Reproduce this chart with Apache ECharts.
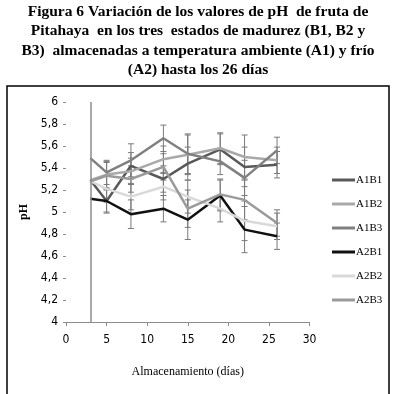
<!DOCTYPE html>
<html>
<head>
<meta charset="utf-8">
<script src="https://cdn.jsdelivr.net/npm/echarts@6/dist/echarts.min.js"></script>
<style>html,body{margin:0;padding:0;background:#fff;}#c{width:396px;height:394px;}</style>
</head>
<body>
<div id="c"></div>
<script>
const days = [3, 5, 8, 12, 15, 19, 22, 26];
const seriesNames = ['A1B1', 'A1B2', 'A1B3', 'A2B1', 'A2B2', 'A2B3'];
const A1B1 = [5.29, 5.10, 5.42, 5.30, 5.44, 5.57, 5.41, 5.43];
const A1B2 = [5.29, 5.34, 5.37, 5.48, 5.52, 5.58, 5.50, 5.47];
const A1B3 = [5.49, 5.36, 5.47, 5.67, 5.53, 5.46, 5.31, 5.56];
const A2B1 = [5.12, 5.10, 4.98, 5.03, 4.93, 5.15, 4.84, 4.78];
const A2B2 = [5.28, 5.21, 5.14, 5.23, 5.14, 5.03, 4.92, 4.87];
const A2B3 = [5.28, 5.33, 5.30, 5.41, 5.03, 5.16, 5.11, 4.90];
const A1B1_err = [0, 0.10, 0.12, 0.12, 0.15, 0.14, 0.18, 0.12];
const A1B2_err = [0, 0.12, 0.12, 0.12, 0.18, 0.14, 0.20, 0.12];
const A1B3_err = [0, 0.11, 0.15, 0.12, 0.18, 0.12, 0.16, 0.12];
const A2B1_err = [0, 0.11, 0.13, 0.12, 0.18, 0.14, 0.21, 0.12];
const A2B2_err = [0, 0.12, 0.12, 0.12, 0.15, 0.12, 0.18, 0.12];
const A2B3_err = [0, 0.12, 0.12, 0.12, 0.17, 0.14, 0.18, 0.12];
const xTicks = [0, 5, 10, 15, 20, 25, 30];
const yTicks = [4, 4.2, 4.4, 4.6, 4.8, 5, 5.2, 5.4, 5.6, 5.8, 6];
const axisCross = 3;
const titleLines = [
  'Figura 6 Variación de los valores de pH  de fruta de',
  'Pitahaya  en los tres  estados de madurez (B1, B2 y',
  'B3)  almacenadas a temperatura ambiente (A1) y frío',
  '(A2) hasta los 26 días'
];

const values = [A1B1, A1B2, A1B3, A2B1, A2B2, A2B3];
const errors = [A1B1_err, A1B2_err, A1B3_err, A2B1_err, A2B2_err, A2B3_err];
const colors = ['#595959', '#a9a9a9', '#808080', '#111111', '#d9d9d9', '#9a9a9a'];

const chart = echarts.init(document.getElementById('c'), null, {renderer: 'canvas'});

const series = [];
values.forEach((vals, si) => {
  series.push({
    type: 'custom',
    name: seriesNames[si] + '_err',
    z: 3,
    silent: true,
    data: days.map((d, i) => [d, vals[i], errors[si][i]]),
    renderItem: function (params, api) {
      const x = api.value(0), y = api.value(1), e = api.value(2);
      if (!e) return null;
      const top = api.coord([x, y + e]);
      const bot = api.coord([x, y - e]);
      const w = 3;
      const st = {stroke: '#7a7a7a', lineWidth: 1};
      return {
        type: 'group',
        children: [
          {type: 'line', shape: {x1: top[0], y1: top[1], x2: bot[0], y2: bot[1]}, style: st},
          {type: 'line', shape: {x1: top[0] - w, y1: top[1], x2: top[0] + w, y2: top[1]}, style: st},
          {type: 'line', shape: {x1: bot[0] - w, y1: bot[1], x2: bot[0] + w, y2: bot[1]}, style: st}
        ]
      };
    }
  });
});
values.forEach((vals, si) => {
  const s = {
    type: 'line',
    name: seriesNames[si],
    z: 4,
    data: days.map((d, i) => [d, vals[i]]),
    showSymbol: false,
    symbol: 'none',
    lineStyle: {color: colors[si], width: 2.5},
    itemStyle: {color: colors[si]}
  };
  if (si === 0) {
    s.markLine = {
      silent: true,
      symbol: 'none',
      label: {show: false},
      lineStyle: {color: '#8c8c8c', width: 1.5, type: 'solid'},
      data: [{xAxis: axisCross}]
    };
  }
  series.push(s);
});

const titleGraphics = titleLines.map((t, i) => ({
  type: 'text',
  x: 198,
  y: 11.7 + i * 19.4,
  style: {
    text: t,
    align: 'center',
    verticalAlign: 'middle',
    font: 'bold 15.5px "Liberation Serif", serif',
    fill: '#000'
  },
  silent: true
}));

chart.setOption({
  animation: false,
  backgroundColor: '#fff',
  graphic: titleGraphics.concat([{
    type: 'rect',
    shape: {x: 7, y: 86, width: 382, height: 320},
    style: {fill: 'none', stroke: '#000', lineWidth: 1.5},
    silent: true
  }]),
  legend: {
    orient: 'vertical',
    left: 327,
    top: 168,
    itemWidth: 23,
    itemHeight: 3,
    itemGap: 10,
    icon: 'rect',
    data: seriesNames,
    textStyle: {fontFamily: 'Liberation Serif', fontSize: 11, color: '#000', lineHeight: 14, padding: [0, 0, 0, -4]}
  },
  grid: {left: 66, right: 86.5, top: 102, bottom: 72, containLabel: false},
  xAxis: {
    type: 'value',
    min: xTicks[0],
    max: xTicks[xTicks.length - 1],
    interval: 5,
    name: 'Almacenamiento (días)',
    nameLocation: 'middle',
    nameGap: 44,
    nameTextStyle: {fontFamily: 'Liberation Serif', fontSize: 12, color: '#000'},
    axisLine: {show: true, lineStyle: {color: '#8c8c8c', width: 1}},
    axisTick: {show: true, length: 4, lineStyle: {color: '#8c8c8c'}},
    axisLabel: {fontFamily: 'Liberation Sans Narrow, DejaVu Sans Condensed, sans-serif', fontSize: 12, color: '#000', margin: 12},
    splitLine: {show: false}
  },
  yAxis: {
    type: 'value',
    min: yTicks[0],
    max: yTicks[yTicks.length - 1],
    interval: 0.2,
    name: 'pH',
    nameLocation: 'middle',
    nameGap: 30,
    nameRotate: 90,
    nameTextStyle: {fontFamily: 'Liberation Serif', fontWeight: 'bold', fontSize: 12, color: '#000'},
    axisLine: {show: false},
    axisTick: {show: true, length: 3, lineStyle: {color: '#8c8c8c'}},
    axisLabel: {
      fontFamily: 'Liberation Sans Narrow, DejaVu Sans Condensed, sans-serif', fontSize: 12, color: '#000', margin: 8,
      formatter: v => String(Math.round(v * 10) / 10).replace('.', ',')
    },
    splitLine: {show: false}
  },
  series: series
});
</script>
</body>
</html>
